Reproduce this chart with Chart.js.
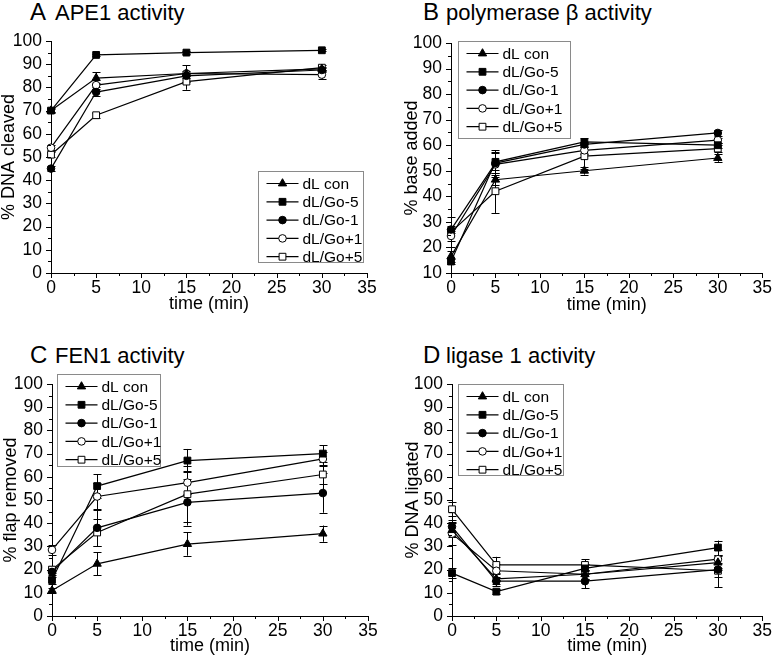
<!DOCTYPE html>
<html>
<head>
<meta charset="utf-8">
<script src="https://cdn.jsdelivr.net/npm/chart.js@4.4.1/dist/chart.umd.min.js"></script>
<style>
  body { margin: 0; background: #fff; }
  #page { position: relative; width: 777px; height: 662px; overflow: hidden;
          font-family: 'Liberation Sans', Arial, sans-serif; color: #000; }
  canvas { position: absolute; }
  .letter { position: absolute; font-size: 24px; line-height: 24px; }
  .title { position: absolute; font-size: 22px; line-height: 22px; white-space: nowrap; }
</style>
</head>
<body>
<div id="page">
  <span class="letter" style="left:30px; top:0px">A</span>
  <span class="title" style="left:55px; top:2px">APE1 activity</span>
  <span class="letter" style="left:423px; top:0px">B</span>
  <span class="title" style="left:446px; top:2px">polymerase β activity</span>
  <span class="letter" style="left:30px; top:343px">C</span>
  <span class="title" style="left:55px; top:345px">FEN1 activity</span>
  <span class="letter" style="left:423px; top:343px">D</span>
  <span class="title" style="left:446px; top:345px">ligase 1 activity</span>

  <canvas id="chartA" width="388" height="320" style="left:0; top:0"></canvas>
  <canvas id="chartB" width="387" height="320" style="left:390px; top:0"></canvas>
  <canvas id="chartC" width="388" height="322" style="left:0; top:340px"></canvas>
  <canvas id="chartD" width="387" height="322" style="left:390px; top:340px"></canvas>
</div>
<script>
// time points (min)
const times = [0, 5, 15, 30];
const seriesLabels = ['dL con', 'dL/Go-5', 'dL/Go-1', 'dL/Go+1', 'dL/Go+5'];

// one row per series, in the order of seriesLabels
const apeMeans = [
  [70, 84, 86, 88],
  [70, 94, 95, 96],
  [45, 78, 85, 87.5],
  [54, 81, 86, 85.5],
  [51, 68, 82.5, 88.5]
];
const apeErrors = [
  [1, 2.5, 1, 1],
  [0.5, 0.5, 0.5, 0.5],
  [1, 1.5, 1, 1],
  [1, 1, 3.5, 2],
  [1, 1, 3.5, 1]
];

const polMeans = [
  [16.5, 46.5, 50, 55],
  [14.5, 53.5, 61.3, 60],
  [27, 53, 60.3, 64.8],
  [24.5, 52.5, 58, 62],
  [26, 42, 55.7, 58.7]
];
const polErrors = [
  [2, 2, 1.5, 1.5],
  [1, 4.5, 1.5, 1],
  [1.5, 4, 1, 1],
  [2, 5, 1.5, 1],
  [6, 8.5, 5, 1.5]
];

const fenMeans = [
  [11, 22.5, 31, 35.5],
  [15.5, 56, 67, 70],
  [19, 38, 49, 53],
  [28.5, 51.5, 57.5, 67.7],
  [20, 36, 52.5, 61]
];
const fenErrors = [
  [1, 5, 5, 3.5],
  [1.5, 5, 5, 3.5],
  [1.5, 8, 10, 8.5],
  [2, 6, 5, 3],
  [1.5, 6, 12, 4]
];

const ligMeans = [
  [37, 16, 18, 23],
  [18.5, 10.5, 20.5, 29.5],
  [38.5, 15, 15, 20],
  [35.5, 19.5, 18, 24.5],
  [46, 22, 22, 19.5]
];
const ligErrors = [
  [3, 2, 2, 3],
  [2, 1, 2, 3],
  [3, 2, 3, 3],
  [5, 3, 2, 4],
  [3, 3.5, 2.5, 7]
];

const FONT = "'Liberation Sans', Arial, sans-serif";

// marker look for each series
const markers = [
  { style: 'triangle', radius: 4.8, fill: '#000' },
  { style: 'rect', radius: 4.8, fill: '#000' },
  { style: 'circle', radius: 3.8, fill: '#000' },
  { style: 'circle', radius: 3.8, fill: '#fff' },
  { style: 'rect', radius: 4.8, fill: '#fff' }
];

// vertical error bars, drawn under the lines and markers
const errorBars = {
  id: 'errorBars',
  beforeDatasetsDraw(chart) {
    const { ctx, scales: { y } } = chart;
    ctx.save();
    ctx.strokeStyle = '#000';
    ctx.lineWidth = 1;
    chart.data.datasets.forEach((ds, i) => {
      const meta = chart.getDatasetMeta(i);
      meta.data.forEach((pt, j) => {
        const v = ds.data[j].y;
        const e = ds.errors[j];
        const x = Math.round(pt.x) + 0.5;
        const top = y.getPixelForValue(v + e);
        const bot = y.getPixelForValue(v - e);
        ctx.beginPath();
        ctx.moveTo(x, top); ctx.lineTo(x, bot);
        ctx.moveTo(x - 4, Math.round(top) + 0.5); ctx.lineTo(x + 4, Math.round(top) + 0.5);
        ctx.moveTo(x - 4, Math.round(bot) + 0.5); ctx.lineTo(x + 4, Math.round(bot) + 0.5);
        ctx.stroke();
      });
    });
    ctx.restore();
  }
};

// major + minor tick marks on both axes
const tickMarks = {
  id: 'tickMarks',
  afterDraw(chart) {
    const { ctx, chartArea, scales: { x, y } } = chart;
    ctx.save();
    ctx.strokeStyle = '#000';
    ctx.lineWidth = 1;
    ctx.beginPath();
    for (let v = y.min; v <= y.max; v += 5) {
      const py = Math.round(y.getPixelForValue(v)) + 0.5;
      const len = v % 10 === 0 ? 5 : 3;
      ctx.moveTo(chartArea.left - len, py);
      ctx.lineTo(chartArea.left, py);
    }
    for (let v = x.min; v <= x.max; v += 2.5) {
      const px = Math.round(x.getPixelForValue(v)) + 0.5;
      const len = v % 5 === 0 ? 5 : 3;
      ctx.moveTo(px, chartArea.bottom);
      ctx.lineTo(px, chartArea.bottom + len);
    }
    ctx.stroke();
    ctx.restore();
  }
};

// boxed legend placed inside the plot
const boxLegend = {
  id: 'boxLegend',
  afterDraw(chart, args, opts) {
    const { ctx, chartArea } = chart;
    const left = Math.round(chartArea.left + opts.dx) + 0.5;
    const top = Math.round(chartArea.top + opts.dy) + 0.5;
    ctx.save();
    ctx.fillStyle = '#fff';
    ctx.fillRect(left, top, opts.w, opts.h);
    ctx.strokeStyle = '#8a8a8a';
    ctx.lineWidth = 1;
    ctx.strokeRect(left, top, opts.w, opts.h);
    ctx.font = '15.5px ' + FONT;
    ctx.textBaseline = 'middle';
    chart.data.datasets.forEach((ds, i) => {
      const yy = top + 12 + i * 18.3;
      ctx.strokeStyle = '#000';
      ctx.lineWidth = 1.2;
      ctx.beginPath();
      ctx.moveTo(left + 8, yy);
      ctx.lineTo(left + 40, yy);
      ctx.stroke();
      ctx.fillStyle = ds.pointBackgroundColor;
      ctx.lineWidth = 1;
      Chart.helpers.drawPoint(ctx, { pointStyle: ds.pointStyle, radius: ds.pointRadius, borderWidth: 1, rotation: 0 }, left + 24, yy);
      ctx.fillStyle = '#000';
      ctx.fillText(ds.label, left + 44, yy + 1);
    });
    ctx.restore();
  }
};

function makeDatasets(means, errors) {
  return seriesLabels.map((label, i) => ({
    label: label,
    data: times.map((t, j) => ({ x: t, y: means[i][j] })),
    errors: errors[i],
    borderColor: '#000',
    borderWidth: 1.2,
    pointStyle: markers[i].style,
    pointRadius: markers[i].radius,
    pointBackgroundColor: markers[i].fill,
    pointBorderColor: '#000',
    pointBorderWidth: 1,
    tension: 0,
    clip: false
  }));
}

function makeChart(id, cfg) {
  const ctx = document.getElementById(id).getContext('2d');
  return new Chart(ctx, {
    type: 'line',
    data: { datasets: makeDatasets(cfg.means, cfg.errors) },
    options: {
      responsive: false,
      animation: false,
      events: [],
      layout: { padding: { top: cfg.padTop, right: cfg.padRight, bottom: 0, left: 0 } },
      plugins: {
        legend: { display: false },
        tooltip: { enabled: false },
        boxLegend: cfg.legend
      },
      scales: {
        x: {
          type: 'linear',
          min: 0,
          max: 35,
          ticks: { stepSize: 5, padding: 5, autoSkip: false, maxRotation: 0,
                   color: '#000', font: { family: FONT, size: 17.5 } },
          grid: { display: false, drawTicks: false },
          border: { display: true, color: '#000', width: 1 },
          title: { display: true, text: 'time (min)', color: '#000',
                   font: { family: FONT, size: 18 }, padding: { top: 0, bottom: cfg.xTitlePad } },
          afterFit: s => { s.height = cfg.xHeight; }
        },
        y: {
          min: cfg.yMin,
          max: 100,
          ticks: { stepSize: 10, padding: 9, autoSkip: false,
                   color: '#000', font: { family: FONT, size: 17.5 } },
          grid: { display: false, drawTicks: false },
          border: { display: true, color: '#000', width: 1 },
          title: { display: true, text: cfg.yTitle, color: '#000',
                   font: { family: FONT, size: 18 }, padding: { top: cfg.yTitlePad, bottom: 0 } },
          afterFit: s => { s.width = cfg.yWidth; }
        }
      }
    },
    plugins: [errorBars, tickMarks, boxLegend]
  });
}

makeChart('chartA', {
  means: apeMeans, errors: apeErrors, yMin: 0, yTitle: '% DNA cleaved',
  padTop: 41, padRight: 21, yWidth: 51, xHeight: 47, xTitlePad: 5, yTitlePad: -2,
  legend: { dx: 207, dy: 130, w: 105, h: 91 }
});
makeChart('chartB', {
  means: polMeans, errors: polErrors, yMin: 10, yTitle: '% base added',
  padTop: 43, padRight: 10, yWidth: 61, xHeight: 47, xTitlePad: 4, yTitlePad: 11,
  legend: { dx: 7, dy: -2, w: 112, h: 97 }
});
makeChart('chartC', {
  means: fenMeans, errors: fenErrors, yMin: 0, yTitle: '% flap removed',
  padTop: 44, padRight: 20, yWidth: 52, xHeight: 46, xTitlePad: 5, yTitlePad: 0,
  legend: { dx: 5, dy: -10, w: 103, h: 92 }
});
makeChart('chartD', {
  means: ligMeans, errors: ligErrors, yMin: 0, yTitle: '% DNA ligated',
  padTop: 44, padRight: 10, yWidth: 62, xHeight: 46, xTitlePad: 5, yTitlePad: 12,
  legend: { dx: 6, dy: 0, w: 105, h: 91 }
});
</script>
</body>
</html>
